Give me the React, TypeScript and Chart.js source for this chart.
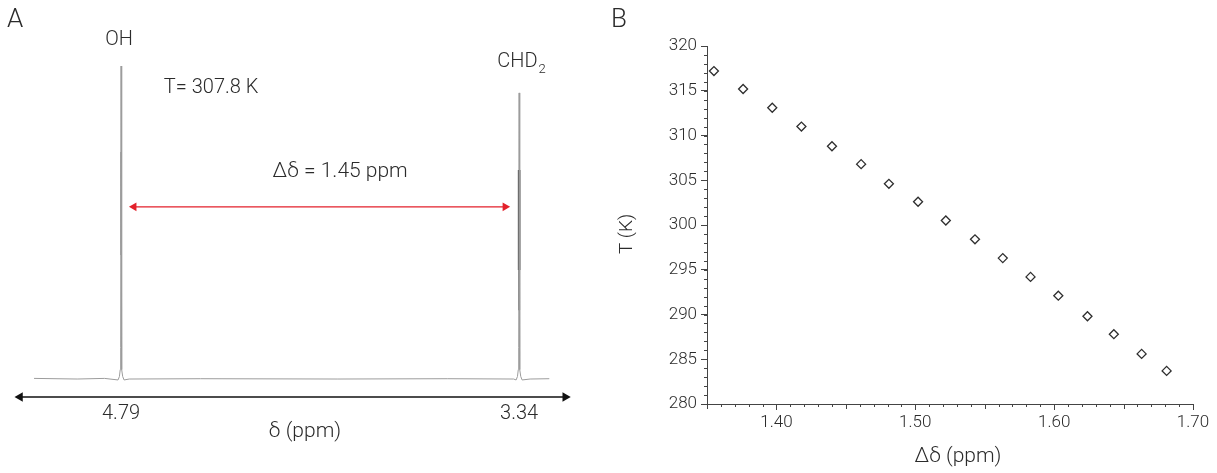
import React, { useEffect, useRef } from 'react';
import { Chart, registerables } from 'chart.js';

Chart.register(...registerables);

const FONT = "Roboto, 'Liberation Sans', Arial, sans-serif";
const TEXT = '#2b2b2b';
const AXIS = '#444444';

// ---------------- Panel A: 1H NMR spectrum ----------------
const specPpm = [5.107, 4.95, 4.85, 4.801, 4.796, 4.793, 4.7915, 4.79, 4.7885, 4.787, 4.784, 4.779, 4.76, 4.5, 4.0, 3.6, 3.36, 3.351, 3.346, 3.343, 3.3415, 3.34, 3.3385, 3.337, 3.334, 3.329, 3.3, 3.23];
const specInt = [0.002, 0.0, 0.002, -0.003, 0.008, 0.03, 0.1, 1.0, 0.1, 0.03, 0.008, -0.003, 0.0, 0.001, 0.0, 0.001, 0.0, -0.003, 0.008, 0.03, 0.1, 0.914, 0.1, 0.03, 0.008, -0.003, 0.0, 0.001];
const ohOverlayPpm = [4.79, 4.79];
const ohOverlayInt = [0.725, 0.396];
const chdOverlayPpm = [3.34, 3.34];
const chdOverlayInt = [0.668, 0.348];
const chdTailPpm = [3.34, 3.34];
const chdTailInt = [0.348, 0.22];
const peakTicks = [4.79, 3.34];
const axisArrowPpm = [5.158, 3.172];
const axisArrowLevel = [-0.0575, -0.0575];
const gapArrowPpm = [4.743, 3.391];
const gapArrowLevel = [0.55, 0.55];
const peakNames = ['OH', 'CHD'];
const tempLabel = 'T= 307.8 K';
const gapLabel = 'Δδ = 1.45 ppm';

// ---------------- Panel B: T vs Δδ ----------------
const deltaShift = [1.355, 1.376, 1.397, 1.418, 1.44, 1.461, 1.481, 1.502, 1.522, 1.543, 1.563, 1.583, 1.603, 1.624, 1.643, 1.663, 1.681];
const temperature = [317.2, 315.2, 313.1, 311.0, 308.8, 306.8, 304.6, 302.6, 300.5, 298.4, 296.3, 294.2, 292.1, 289.8, 287.8, 285.6, 283.7];
const xTicksB = [1.4, 1.5, 1.6, 1.7];
const yTicksB = [280, 285, 290, 295, 300, 305, 310, 315, 320];

const font = (size: number) => `300 ${size}px ${FONT}`;

const annotA = {
  id: 'annotA',
  afterDatasetsDraw(chart: any) {
    const { ctx, scales } = chart;
    const x = scales.x;
    const y = scales.y;
    ctx.save();
    ctx.fillStyle = TEXT;
    ctx.textAlign = 'center';
    ctx.textBaseline = 'middle';
    const put = (t: string, px: number, py: number, size: number) => {
      ctx.font = font(size);
      ctx.fillText(t, x.getPixelForValue(px), y.getPixelForValue(py));
    };
    put(peakNames[0], 4.797, 1.083, 20);
    put(tempLabel, 4.462, 0.93, 20);
    put(gapLabel, 3.992, 0.661, 21);
    put('δ (ppm)', 4.12, -0.169, 21);
    // CHD2 with subscript
    ctx.font = font(20);
    const w1 = ctx.measureText(peakNames[1]).width;
    ctx.font = font(13);
    const w2 = ctx.measureText('2').width;
    const cx = x.getPixelForValue(3.333);
    const cy = y.getPixelForValue(1.013);
    const left = cx - (w1 + w2) / 2;
    ctx.textAlign = 'left';
    ctx.font = font(20);
    ctx.fillText(peakNames[1], left, cy);
    ctx.font = font(13);
    ctx.fillText('2', left + w1 + 1, cy + 8);
    // panel letter
    ctx.font = font(26);
    ctx.fillText('A', 7, 20);
    ctx.restore();
  },
};

const annotB = {
  id: 'annotB',
  afterDraw(chart: any) {
    const { ctx, scales, chartArea } = chart;
    const x = scales.x;
    const y = scales.y;
    ctx.save();
    ctx.strokeStyle = AXIS;
    ctx.lineWidth = 1;
    ctx.beginPath();
    for (let k = 0; k <= 35; k++) {
      const v = 1.35 + k * 0.01;
      const px = Math.round(x.getPixelForValue(v)) + 0.5;
      const len = k % 5 === 0 ? 5 : 3;
      ctx.moveTo(px, chartArea.bottom);
      ctx.lineTo(px, chartArea.bottom + len);
    }
    for (let k = 0; k <= 40; k++) {
      const v = 280 + k;
      const py = Math.round(y.getPixelForValue(v)) + 0.5;
      const len = 3;
      ctx.moveTo(chartArea.left - len, py);
      ctx.lineTo(chartArea.left, py);
    }
    ctx.stroke();
    ctx.fillStyle = TEXT;
    ctx.textAlign = 'center';
    ctx.textBaseline = 'middle';
    ctx.font = font(21);
    ctx.fillText('Δδ (ppm)', 358, 457);
    ctx.save();
    ctx.translate(27, 234);
    ctx.rotate(-Math.PI / 2);
    ctx.font = font(19);
    ctx.fillText('T (K)', 0, 0);
    ctx.restore();
    ctx.textAlign = 'left';
    ctx.font = font(26);
    ctx.fillText('B', 11, 20);
    ctx.restore();
  },
};

function PanelA() {
  const ref = useRef<HTMLCanvasElement>(null);
  useEffect(() => {
    if (!ref.current) return;
    const pts = (xs: number[], ys: number[]) => xs.map((v, i) => ({ x: v, y: ys[i] }));
    const chart = new Chart(ref.current, {
      type: 'line',
      data: {
        datasets: [
          { data: pts(specPpm, specInt), borderColor: '#9c9c9c', borderWidth: 1, pointRadius: 0, tension: 0 },
          { data: pts(ohOverlayPpm, ohOverlayInt), borderColor: '#6a6a6a', borderWidth: 1.2, pointRadius: 0 },
          { data: pts(chdOverlayPpm, chdOverlayInt), borderColor: '#1e1e1e', borderWidth: 2.5, pointRadius: 0 },
          { data: pts(chdTailPpm, chdTailInt), borderColor: '#666666', borderWidth: 2, pointRadius: 0 },
          {
            data: pts(gapArrowPpm, gapArrowLevel),
            borderColor: '#e3212b',
            borderWidth: 1.3,
            pointStyle: 'triangle',
            pointRadius: 5,
            pointRotation: [-90, 90],
            pointBackgroundColor: '#e3212b',
            pointBorderColor: '#e3212b',
            pointBorderWidth: 0,
            clip: false,
          },
          {
            data: pts(axisArrowPpm, axisArrowLevel),
            borderColor: '#111111',
            borderWidth: 1.5,
            pointStyle: 'triangle',
            pointRadius: 5.5,
            pointRotation: [-90, 90],
            pointBackgroundColor: '#111111',
            pointBorderColor: '#111111',
            pointBorderWidth: 0,
            clip: false,
          },
        ] as any,
      },
      options: {
        animation: false,
        responsive: false,
        events: [],
        layout: { padding: { left: 8.5, right: 15, top: 50.35, bottom: 0 } },
        plugins: { legend: { display: false }, tooltip: { enabled: false } },
        scales: {
          x: {
            type: 'linear',
            reverse: true,
            min: 3.1,
            max: 5.2,
            grid: { display: false, drawTicks: false },
            border: { display: false },
            afterBuildTicks: (s: any) => {
              s.ticks = peakTicks.map((v) => ({ value: v }));
            },
            afterFit: (s: any) => {
              s.height = 75.2;
            },
            ticks: {
              autoSkip: false,
              maxRotation: 0,
              padding: 4,
              color: TEXT,
              font: { family: FONT, size: 20, weight: '300' },
              callback: (v: any) => Number(v).toFixed(2),
            },
          },
          y: { display: false, min: -0.06, max: 1.05 },
        },
      } as any,
      plugins: [annotA],
    });
    return () => chart.destroy();
  }, []);
  return <canvas ref={ref} width={600} height={473} style={{ display: 'block' }} />;
}

function PanelB() {
  const ref = useRef<HTMLCanvasElement>(null);
  useEffect(() => {
    if (!ref.current) return;
    const chart = new Chart(ref.current, {
      type: 'scatter',
      data: {
        datasets: [
          {
            data: deltaShift.map((d, i) => ({ x: d, y: temperature[i] })),
            pointStyle: 'rectRot',
            pointRadius: 4.5,
            borderColor: '#2e2e2e',
            borderWidth: 1.3,
            backgroundColor: '#ffffff',
          },
        ],
      },
      options: {
        animation: false,
        responsive: false,
        events: [],
        layout: { padding: { left: 0, right: 24, top: 46, bottom: 0 } },
        plugins: { legend: { display: false }, tooltip: { enabled: false } },
        scales: {
          x: {
            type: 'linear',
            min: 1.35,
            max: 1.7,
            afterBuildTicks: (s: any) => {
              s.ticks = xTicksB.map((v) => ({ value: v }));
            },
            afterFit: (s: any) => {
              s.height = 69;
            },
            grid: { display: true, drawOnChartArea: false, drawTicks: true, tickLength: 6, color: AXIS },
            border: { display: true, color: AXIS, width: 1 },
            ticks: {
              autoSkip: false,
              maxRotation: 0,
              padding: 3,
              color: TEXT,
              font: { family: FONT, size: 17, weight: '300' },
              callback: (v: any) => Number(v).toFixed(2),
            },
          },
          y: {
            type: 'linear',
            min: 280,
            max: 320,
            afterBuildTicks: (s: any) => {
              s.ticks = yTicksB.map((v) => ({ value: v }));
            },
            afterFit: (s: any) => {
              s.width = 107;
            },
            grid: { display: true, drawOnChartArea: false, drawTicks: true, tickLength: 6, color: AXIS },
            border: { display: true, color: AXIS, width: 1 },
            ticks: {
              autoSkip: false,
              padding: 4,
              color: TEXT,
              font: { family: FONT, size: 17, weight: '300' },
            },
          },
        },
      } as any,
      plugins: [annotB],
    });
    return () => chart.destroy();
  }, []);
  return <canvas ref={ref} width={617} height={473} style={{ display: 'block' }} />;
}

export default function App() {
  return (
    <div style={{ position: 'fixed', left: 0, top: 0, width: 1217, height: 473, background: '#ffffff' }}>
      <div style={{ position: 'absolute', left: 0, top: 0, width: 600, height: 473 }}>
        <PanelA />
      </div>
      <div style={{ position: 'absolute', left: 600, top: 0, width: 617, height: 473 }}>
        <PanelB />
      </div>
    </div>
  );
}
